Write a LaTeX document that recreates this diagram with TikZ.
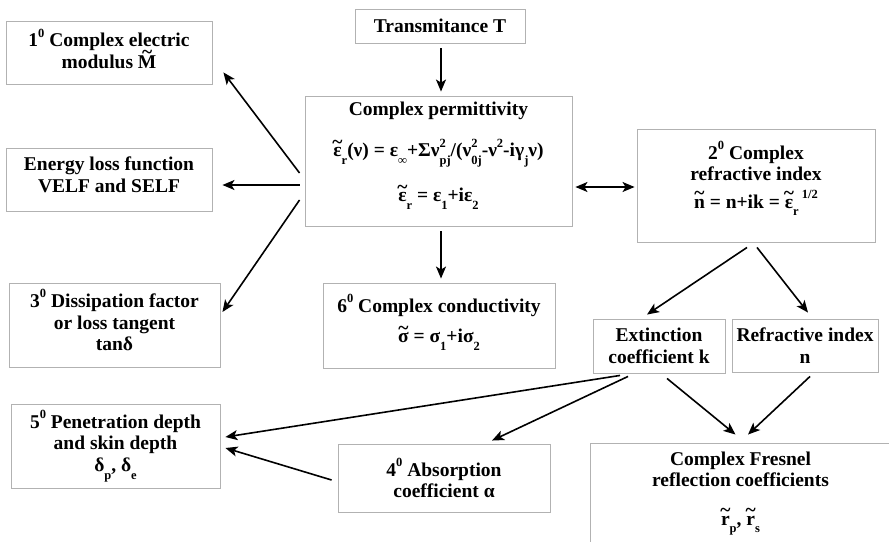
\documentclass[tikz,border=0pt]{standalone}
\usepackage{fontspec}
\setmainfont{Liberation Serif}
\usetikzlibrary{arrows.meta}
\newcommand{\suptx}[1]{\raisebox{0.5em}{\fontsize{12.5}{12.5}\selectfont #1}}
\newcommand{\subtx}[1]{\raisebox{-0.4em}{\fontsize{12.5}{12.5}\selectfont #1}}
\newcommand{\supsub}[2]{\rlap{\suptx{#1}}\subtx{#2}}
\newcommand{\tlde}[2][0.42em]{\leavevmode\hbox{\ooalign{#2\cr\hidewidth\raisebox{#1}{\textasciitilde}\hidewidth\cr}}}

\begin{document}
\begin{tikzpicture}[
    x=1pt, y=-1pt,
    box/.style={
        rectangle, draw=gray!60, line width=0.9pt, fill=white,
        inner sep=0pt, align=center,
        font=\fontsize{19.5}{21.5}\selectfont\bfseries
    },
    flow/.style={-{Stealth[length=12pt, width=10pt, inset=3pt]}, line width=1.6pt},
    twoway/.style={{Stealth[length=12pt, width=10pt, inset=3pt]}-{Stealth[length=12pt, width=10pt, inset=3pt]}, line width=1.6pt}
]
\useasboundingbox[fill=white] (0,0) rectangle (889,541);

% === Top and centre ===
\node[box, minimum width=170pt, minimum height=34pt] (trans) at (440,26)
    {Transmitance T};

\node[box, minimum width=267pt, minimum height=130pt] (perm) at (438.5,161)
    {Complex permittivity\\[18pt]
     \tlde{ε}\subtx{r}(ν) = ε\subtx{∞}+Σν\supsub{2}{pj}/(ν\supsub{2}{0j}-ν\suptx{2}-iγ\subtx{j}ν)\\[20pt]
     \tlde{ε}\subtx{r} = ε\subtx{1}+iε\subtx{2}\rule[-18pt]{0pt}{1pt}};

\node[box, minimum width=232pt, minimum height=85pt] (cond) at (439,325.5)
    {6\suptx{0} Complex conductivity\\[9pt]
     \tlde{σ} = σ\subtx{1}+iσ\subtx{2}\rule[-14pt]{0pt}{1pt}};

% === Left column ===
\node[box, minimum width=206pt, minimum height=63pt] (modul) at (109,52.5)
    {1\suptx{0} Complex electric\\modulus \tlde[0.5em]{M}\rule[-8pt]{0pt}{1pt}};

\node[box, minimum width=206pt, minimum height=63pt] (eloss) at (109,179.5)
    {Energy loss function\\VELF and SELF\rule[-10pt]{0pt}{1pt}};

\node[box, minimum width=211pt, minimum height=84pt] (dissip) at (114.5,325)
    {3\suptx{0} Dissipation factor\\or loss tangent\\tanδ\rule[-10pt]{0pt}{1pt}};

\node[box, minimum width=209pt, minimum height=84pt] (pen) at (115.5,446)
    {5\suptx{0} Penetration depth\\and skin depth\\δ\subtx{p}, δ\subtx{e}};

\node[box, minimum width=212pt, minimum height=68pt] (abs) at (444,478)
    {4\suptx{0} Absorption\\coefficient α};

% === Right column ===
\node[box, minimum width=238pt, minimum height=113pt] (refr) at (756,185.5)
    {2\suptx{0} Complex\\refractive index\\[6pt]
     \tlde{n} = n+ik = \tlde{ε}\subtx{r}\,\suptx{1/2}\rule[-22pt]{0pt}{1pt}};

\node[box, minimum width=132pt, minimum height=54pt] (ext) at (659,346)
    {Extinction\\coefficient k};

\node[box, minimum width=146pt, minimum height=53pt] (rind) at (805,345.5)
    {Refractive index\\n};

\node[box, minimum width=301pt, minimum height=101pt] (fres) at (740.5,493.5)
    {Complex Fresnel\\reflection coefficients\\[17pt]
     \tlde{r}\subtx{p}, \tlde{r}\subtx{s}};

% === Connectors ===
\draw[flow] ([xshift=1pt, yshift=-5pt]trans.south) -- ([xshift=1pt, yshift=4pt]trans.south |- perm.north);
\draw[flow] ([xshift=2.5pt, yshift=-5pt]perm.south) -- ([xshift=2.5pt, yshift=4pt]perm.south |- cond.north);

\draw[flow] ([xshift=-5pt, yshift=-12pt]perm.west) -- ([xshift=11pt, yshift=12pt]modul.south east);
\draw[flow] ([xshift=-5pt, yshift=-24pt]perm.west) -- ([xshift=10pt, yshift=-5.5pt]eloss.east);
\draw[flow] ([xshift=-5pt, yshift=-39pt]perm.west) -- ([xshift=2pt, yshift=13pt]dissip.east);

\draw[twoway] ([xshift=3pt, yshift=-26pt]perm.east) -- ([xshift=-2pt, yshift=-1.5pt]refr.west);

\draw[flow] ([xshift=-9pt, yshift=-5pt]refr.south) -- ([xshift=-12pt, yshift=4pt]ext.north);
\draw[flow] ([xshift=1pt, yshift=-5pt]refr.south) -- ([xshift=3pt, yshift=6pt]rind.north);

\draw[flow] ([xshift=-39pt, yshift=-2pt]ext.south) -- ([xshift=5pt, yshift=9pt]pen.east);
\draw[flow] ([xshift=-31pt, yshift=-3pt]ext.south) -- ([xshift=48pt, yshift=3pt]abs.north);
\draw[flow] ([xshift=8pt, yshift=-5pt]ext.south) -- ([xshift=-5pt, yshift=8pt]fres.north);
\draw[flow] ([xshift=5pt, yshift=-4pt]rind.south) -- ([xshift=7.5pt, yshift=8pt]fres.north);
\draw[flow] ([xshift=-6pt, yshift=-2pt]abs.west) -- ([xshift=5pt, yshift=-2pt]pen.east);

\end{tikzpicture}
\end{document}
